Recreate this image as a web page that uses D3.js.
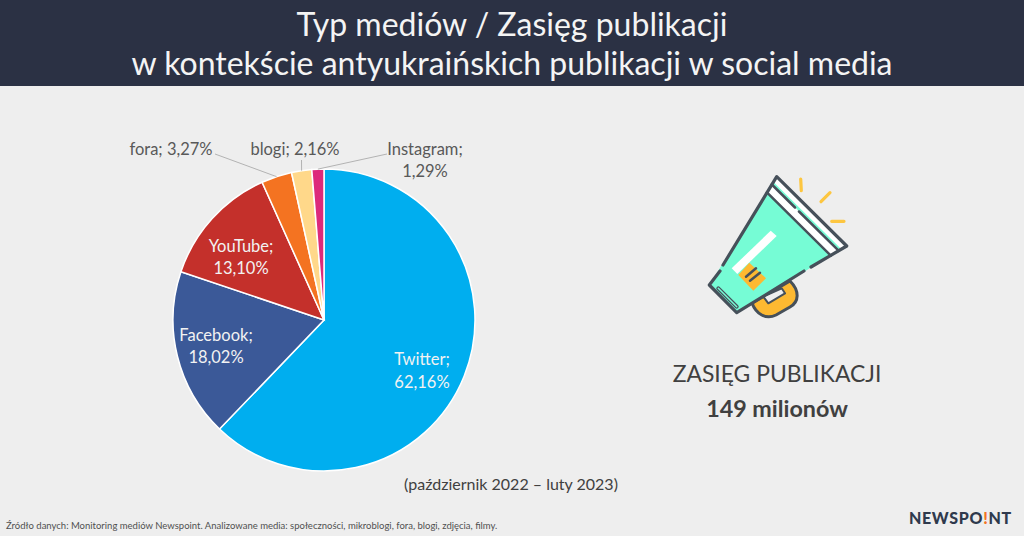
<!DOCTYPE html>
<html>
<head>
<meta charset="utf-8">
<script src="https://cdn.jsdelivr.net/npm/d3@7"></script>
<style>
  html, body { margin: 0; padding: 0; background: #eeeeee; overflow: hidden; }
  text { font-family: Lato, sans-serif; }
</style>
</head>
<body>
<div id="chart"></div>
<script>
// Data
var categories = ["Twitter", "Facebook", "YouTube", "fora", "blogi", "Instagram"];
var shares = [62.16, 18.02, 13.10, 3.27, 2.16, 1.29];
var shareLabels = ["62,16%", "18,02%", "13,10%", "3,27%", "2,16%", "1,29%"];
var sliceColors = ["#00aeef", "#3b5998", "#c4302b", "#f47321", "#ffd88a", "#dd2a7b"];

var svgWidth = 1024;
var svgHeight = 536;

var svg = d3.select("#chart")
  .append("svg")
  .attr("width", svgWidth)
  .attr("height", svgHeight)
  .style("display", "block");

svg.append("rect")
  .attr("width", svgWidth)
  .attr("height", svgHeight)
  .attr("fill", "#eeeeee");

// Header
svg.append("rect")
  .attr("width", svgWidth)
  .attr("height", 86)
  .attr("fill", "#2b3144");

var titleLines = ["Typ mediów / Zasięg publikacji", "w kontekście antyukraińskich publikacji w social media"];
svg.selectAll(".title")
  .data(titleLines)
  .enter()
  .append("text")
  .attr("class", "title")
  .attr("x", 512)
  .attr("y", (d, i) => 36 + i * 39)
  .attr("text-anchor", "middle")
  .attr("font-size", "32px")
  .attr("fill", "#f4f4f4")
  .text(d => d);

// Pie
var radius = 151;
var pieGroup = svg.append("g")
  .attr("transform", "translate(324, 320)");

var pie = d3.pie().sort(null).value(d => d);
var arc = d3.arc().innerRadius(0).outerRadius(radius);
var arcs = pie(shares);

pieGroup.selectAll("path")
  .data(arcs)
  .enter()
  .append("path")
  .attr("d", arc)
  .attr("fill", (d, i) => sliceColors[i])
  .attr("stroke", "#ffffff")
  .attr("stroke-width", 1.5);

// Labels: offset from the pie centre, lines = how the label wraps
var labelLayout = [
  { dx: 98, dy: 50.5, lines: 2, color: "#f2f2f2" },
  { dx: -108, dy: 26, lines: 2, color: "#f2f2f2" },
  { dx: -83, dy: -63, lines: 2, color: "#f2f2f2" },
  { dx: -153, dy: -171, lines: 1, color: "#595959" },
  { dx: -29, dy: -171, lines: 1, color: "#595959" },
  { dx: 101, dy: -160, lines: 2, color: "#595959" }
];

categories.forEach(function(name, i) {
  var layout = labelLayout[i];
  var lines = layout.lines == 2 ? [name + ";", shareLabels[i]] : [name + "; " + shareLabels[i]];
  pieGroup.append("g")
    .selectAll("text")
    .data(lines)
    .enter()
    .append("text")
    .attr("x", layout.dx)
    .attr("y", (d, k) => layout.dy + 6 + (k - (lines.length - 1) / 2) * 22.5)
    .attr("text-anchor", "middle")
    .attr("font-size", "16.5px")
    .attr("fill", layout.color)
    .text(d => d);
});

// Leader lines for the small slices
var leaders = [
  { slice: 3, x: -109, y: -166 },
  { slice: 4, x: -22.5, y: -160 },
  { slice: 5, x: 63, y: -166 }
];
leaders.forEach(function(l) {
  var mid = (arcs[l.slice].startAngle + arcs[l.slice].endAngle) / 2;
  pieGroup.append("line")
    .attr("x1", l.x)
    .attr("y1", l.y)
    .attr("x2", Math.sin(mid) * radius)
    .attr("y2", -Math.cos(mid) * radius)
    .attr("stroke", "#b3b3b3")
    .attr("stroke-width", 1);
});

// Note under the pie
svg.append("text")
  .attr("x", 511)
  .attr("y", 490)
  .attr("text-anchor", "middle")
  .attr("font-size", "16px")
  .attr("fill", "#404040")
  .text("(październik 2022 – luty 2023)");

// Megaphone icon
var ink = "#46505a";
var icon = svg.append("g")
  .attr("stroke-linejoin", "round")
  .attr("stroke-linecap", "round");

// handle, sits behind the body
icon.append("path")
  .attr("d", "M752 303 C756 314 766 320 776 315 L790 307 C799 302 800 291 790 281 Z")
  .attr("fill", "#fdb931")
  .attr("stroke", ink)
  .attr("stroke-width", 3);
icon.append("path")
  .attr("d", "M763.3 296.7 L768.3 303.3 L785 293.3 L781.7 288.3 Z")
  .attr("fill", "#eeeeee")
  .attr("stroke", ink)
  .attr("stroke-width", 2);
// body
icon.append("path")
  .attr("d", "M776.7 176.7 L846.7 246 L736.7 312.7 L709.3 285 Z")
  .attr("fill", "#76fcd5");
// bands on the bell
icon.append("path")
  .attr("d", "M776.7 176.7 L846.7 246 L838.8 250.8 L771.8 184.5 Z")
  .attr("fill", "#ffffff");
icon.append("path")
  .attr("d", "M773.9 182.4 L840.9 248.7 L838.8 250.8 L771.8 184.5 Z")
  .attr("fill", "#76fcd5");
icon.append("path")
  .attr("d", "M771.8 184.5 L838.8 250.8 L830.8 255.6 L766.9 192.4 Z")
  .attr("fill", "#ffffff");
icon.append("path")
  .attr("d", "M771.8 184.5 L795 207.5 M799 211.5 L838.8 250.8 M766.9 192.4 L830.8 255.6")
  .attr("stroke", ink)
  .attr("stroke-width", 2.5)
  .attr("fill", "none");
// highlight and label patch
icon.append("path")
  .attr("d", "M770.7 230.7 L776.7 236 L737.3 274 L731.7 268.3 Z")
  .attr("fill", "#ffffff");
icon.append("path")
  .attr("d", "M738.3 275 L749.3 262.7 L766 278.3 L753.3 290.7 Z")
  .attr("fill", "#fdb931");
icon.append("path")
  .attr("d", "M746 276.7 L756 268.3 M750 280.7 L760 272.7")
  .attr("stroke", ink)
  .attr("stroke-width", 2.5)
  .attr("fill", "none");
// slot at the mouth
icon.append("path")
  .attr("d", "M718.3 288.3 L736.7 306.7")
  .attr("stroke", ink)
  .attr("stroke-width", 4)
  .attr("fill", "none");
icon.append("path")
  .attr("d", "M718.3 288.3 L736.7 306.7")
  .attr("stroke", "#76fcd5")
  .attr("stroke-width", 1.5)
  .attr("fill", "none");
// outline with the two small gaps
icon.append("path")
  .attr("d", "M723 265 L776.7 176.7 L846.7 246 L811 267 M804 271 L736.7 312.7 L709.3 285 L720 271")
  .attr("stroke", ink)
  .attr("stroke-width", 3.2)
  .attr("fill", "none");
// sound marks
icon.append("path")
  .attr("d", "M800.7 179 L801.3 190.7 M830 192.7 L821 201.7 M831.7 221.3 L844 221.3")
  .attr("stroke", "#fdc640")
  .attr("stroke-width", 3.2)
  .attr("fill", "none");

// Reach
svg.append("text")
  .attr("x", 777)
  .attr("y", 382)
  .attr("text-anchor", "middle")
  .attr("font-size", "22.9px")
  .attr("fill", "#404040")
  .text("ZASIĘG PUBLIKACJI");
svg.append("text")
  .attr("x", 777)
  .attr("y", 417)
  .attr("text-anchor", "middle")
  .attr("font-size", "23.3px")
  .attr("font-weight", 700)
  .attr("fill", "#404040")
  .text("149 milionów");

// Footer
svg.append("text")
  .attr("x", 6)
  .attr("y", 529)
  .attr("font-size", "9.5px")
  .attr("fill", "#505050")
  .text("Źródło danych: Monitoring mediów Newspoint. Analizowane media: społeczności, mikroblogi, fora, blogi, zdjęcia, filmy.");

var logo = svg.append("text")
  .attr("x", 1012)
  .attr("y", 524)
  .attr("text-anchor", "end")
  .attr("font-size", "16px")
  .attr("font-weight", 900)
  .attr("letter-spacing", "0.7px")
  .attr("fill", "#2f3a4d");
logo.append("tspan").text("NEWSPO");
logo.append("tspan").attr("fill", "#f47321").text("!");
logo.append("tspan").text("NT");
</script>
</body>
</html>
